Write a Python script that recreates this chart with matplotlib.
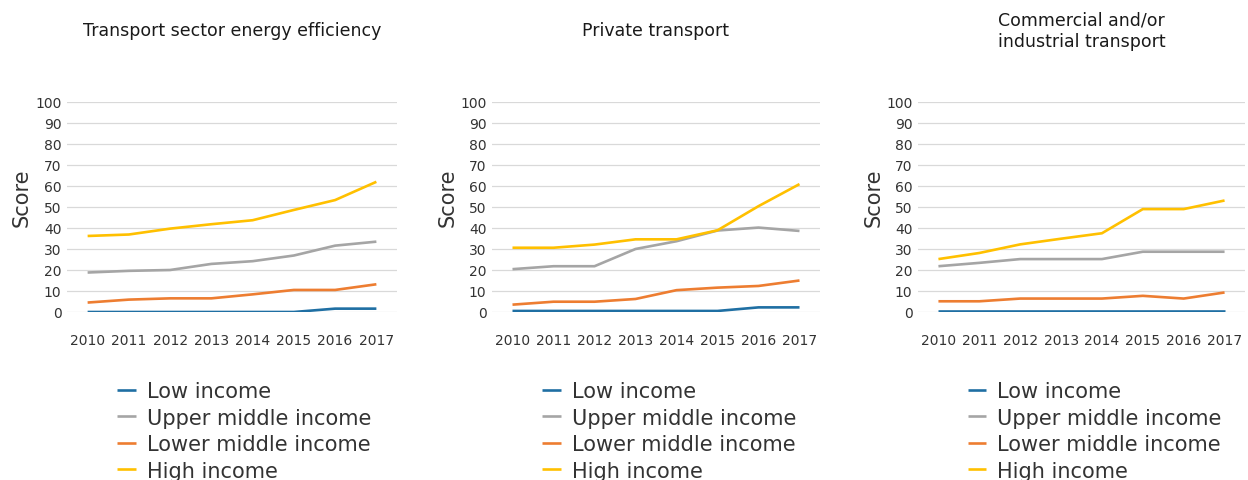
import matplotlib
matplotlib.use("Agg")
import matplotlib.pyplot as plt

plt.rcParams['font.family'] = ['DejaVu Sans']

years = ["2010", "2011", "2012", "2013", "2014", "2015", "2016", "2017"]
series_names = ["Low income", "Upper middle income", "Lower middle income", "High income"]
colors = ["#1f6fa3", "#a5a5a5", "#ed7d31", "#ffc000"]

titles = ["Transport sector energy efficiency",
          "Private transport",
          "Commercial and/or\nindustrial transport"]

# panel 1: transport sector energy efficiency
eff_low = [0, 0, 0, 0, 0, 0, 1.6, 1.6]
eff_upper = [18.8, 19.6, 20.0, 22.9, 24.2, 26.9, 31.6, 33.5]
eff_lower = [4.5, 5.9, 6.5, 6.5, 8.4, 10.5, 10.5, 13.2]
eff_high = [36.2, 36.9, 39.7, 41.8, 43.7, 48.6, 53.3, 62.0]

# panel 2: private transport
priv_low = [0.5, 0.5, 0.5, 0.5, 0.5, 0.5, 2.2, 2.2]
priv_upper = [20.4, 21.8, 21.8, 30.0, 33.7, 38.8, 40.2, 38.6]
priv_lower = [3.5, 4.9, 4.9, 6.2, 10.4, 11.6, 12.4, 15.0]
priv_high = [30.6, 30.6, 32.1, 34.6, 34.6, 38.9, 50.4, 60.9]

# panel 3: commercial and/or industrial transport
comm_low = [0.5, 0.5, 0.5, 0.5, 0.5, 0.5, 0.5, 0.5]
comm_upper = [21.8, 23.4, 25.2, 25.2, 25.2, 28.7, 28.7, 28.7]
comm_lower = [5.1, 5.1, 6.4, 6.4, 6.4, 7.7, 6.4, 9.3]
comm_high = [25.2, 28.1, 32.2, 34.9, 37.5, 49.0, 49.0, 53.1]

panels = [
    [eff_low, eff_upper, eff_lower, eff_high],
    [priv_low, priv_upper, priv_lower, priv_high],
    [comm_low, comm_upper, comm_lower, comm_high],
]

W, H = 1248, 481
fig = plt.figure(figsize=(W / 100, H / 100), dpi=100)

# pixel extents of each plot area (left, right)
lefts = [67, 492, 918]
rights = [397, 820, 1245]
top_px, bot_px = 103, 313
text_col = "#333333"

for i, data in enumerate(panels):
    ax = fig.add_axes([lefts[i] / W, (H - bot_px) / H,
                       (rights[i] - lefts[i]) / W, (bot_px - top_px) / H])
    x = list(range(len(years)))
    for vals, name, c in zip(data, series_names, colors):
        ax.plot(x, vals, color=c, lw=1.9, label=name, solid_capstyle='butt')
    ax.set_xlim(-0.5, len(years) - 0.5)
    ax.set_ylim(0, 100)
    ax.set_yticks(range(0, 101, 10))
    ax.set_xticks(x)
    ax.set_xticklabels(years)
    ax.grid(axis='y', color="#d9d9d9", lw=0.9)
    ax.set_axisbelow(True)
    for s in ax.spines.values():
        s.set_visible(False)
    ax.tick_params(axis='both', length=0, labelsize=10, colors=text_col)
    ax.tick_params(axis='y', pad=4)
    ax.tick_params(axis='x', pad=15)
    ax.set_ylabel("Score", fontsize=15, color=text_col)
    ax.yaxis.set_label_coords(-0.106, 0.55)
    ax.text(0.5, (bot_px - 31) / (bot_px - top_px), titles[i], transform=ax.transAxes,
            ha='center', va='center', fontsize=12.5, fontweight='normal',
            color="#1a1a1a", linespacing=1.25)
    leg = ax.legend(loc='upper left', bbox_to_anchor=(0.152, -0.33), frameon=False,
                    fontsize=15, handlelength=0.9, handletextpad=0.53,
                    labelspacing=0.31, borderpad=0, borderaxespad=0)
    for t in leg.get_texts():
        t.set_color(text_col)

fig.savefig("out.png", dpi=100)
